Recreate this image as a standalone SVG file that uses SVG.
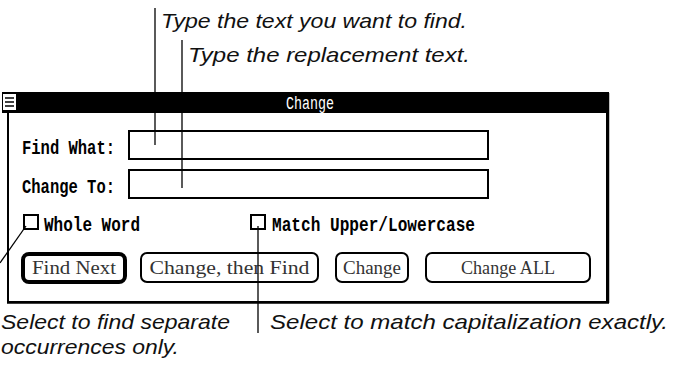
<svg xmlns="http://www.w3.org/2000/svg" width="673" height="387" viewBox="0 0 673 387">
<style>
.call{font-family:"Liberation Sans",Arial,sans-serif;font-style:italic;font-size:21px;fill:#111}
.lbl{font-family:"Liberation Mono","DejaVu Sans Mono",monospace;font-weight:bold;font-size:21px;fill:#000}
.btn{font-family:"Liberation Serif","DejaVu Serif",serif;font-size:18px;fill:#333}
.ln{stroke:#000;stroke-width:1.3;fill:none}
.box{fill:#fff;stroke:#000;stroke-width:2}
</style>
<rect width="673" height="387" fill="#fff"/>
<g id="window">
<rect x="8" y="112" width="599" height="190" fill="#fff" stroke="#000" stroke-width="2"/>
<line x1="608" y1="93" x2="608" y2="303" stroke="#000" stroke-width="2.5"/>
<line x1="7" y1="302.5" x2="609" y2="302.5" stroke="#000" stroke-width="2.5"/>
<rect x="2" y="92" width="607" height="21" fill="#000"/>
<rect x="3" y="94" width="13" height="16" fill="#fff"/>
<g fill="none" stroke="#000" stroke-width="1.5">
<line x1="5" y1="98" x2="14" y2="98"/>
<line x1="5" y1="102" x2="14" y2="102"/>
<line x1="5" y1="106" x2="14" y2="106"/>
</g>
<text x="310" y="109" text-anchor="middle" class="lbl" style="fill:#fff;font-weight:normal;font-size:19px" textLength="48" lengthAdjust="spacingAndGlyphs">Change</text>
</g>
<g id="find-what">
<text x="22" y="154" class="lbl" textLength="93" lengthAdjust="spacingAndGlyphs">Find What:</text>
<rect x="129" y="131" width="359" height="28" class="box"/>
</g>
<g id="change-to">
<text x="22" y="193" class="lbl" textLength="93" lengthAdjust="spacingAndGlyphs">Change To:</text>
<rect x="129" y="170" width="359" height="28" class="box"/>
</g>
<g id="whole-word">
<rect x="24" y="215" width="14" height="14" class="box"/>
<text x="44" y="231" class="lbl" textLength="96" lengthAdjust="spacingAndGlyphs">Whole Word</text>
</g>
<g id="match-case">
<rect x="251" y="215" width="14" height="14" class="box"/>
<text x="272" y="231" class="lbl" textLength="203" lengthAdjust="spacingAndGlyphs">Match Upper/Lowercase</text>
</g>
<g id="btn-find-next">
<rect x="23" y="254" width="102" height="28" rx="6" fill="#fff" stroke="#000" stroke-width="4"/>
<text x="74" y="274" text-anchor="middle" class="btn" textLength="84" lengthAdjust="spacingAndGlyphs">Find Next</text>
</g>
<g id="btn-change-then-find">
<rect x="141" y="253" width="177" height="29" rx="6" class="box"/>
<text x="229.5" y="274" text-anchor="middle" class="btn" textLength="160" lengthAdjust="spacingAndGlyphs">Change, then Find</text>
</g>
<g id="btn-change">
<rect x="336" y="253" width="72" height="29" rx="6" class="box"/>
<text x="372" y="274" text-anchor="middle" class="btn" textLength="58" lengthAdjust="spacingAndGlyphs">Change</text>
</g>
<g id="btn-change-all">
<rect x="426" y="253" width="164" height="29" rx="6" class="box"/>
<text x="508" y="274" text-anchor="middle" class="btn" textLength="94" lengthAdjust="spacingAndGlyphs">Change ALL</text>
</g>
<g id="connectors">
<line x1="155" y1="8" x2="155" y2="145" class="ln"/>
<line x1="182" y1="40" x2="182" y2="188" class="ln"/>
<line x1="26" y1="226" x2="0" y2="263" class="ln"/>
<line x1="258" y1="226" x2="258" y2="333" class="ln"/>
</g>
<g id="callouts">
<text x="161" y="28" class="call" textLength="306" lengthAdjust="spacingAndGlyphs">Type the text you want to find.</text>
<text x="188" y="62" class="call" textLength="282" lengthAdjust="spacingAndGlyphs">Type the replacement text.</text>
<text x="1" y="329" class="call" textLength="229" lengthAdjust="spacingAndGlyphs">Select to find separate</text>
<text x="1" y="354" class="call" textLength="178" lengthAdjust="spacingAndGlyphs">occurrences only.</text>
<text x="270" y="329" class="call" textLength="398" lengthAdjust="spacingAndGlyphs">Select to match capitalization exactly.</text>
</g>
</svg>
